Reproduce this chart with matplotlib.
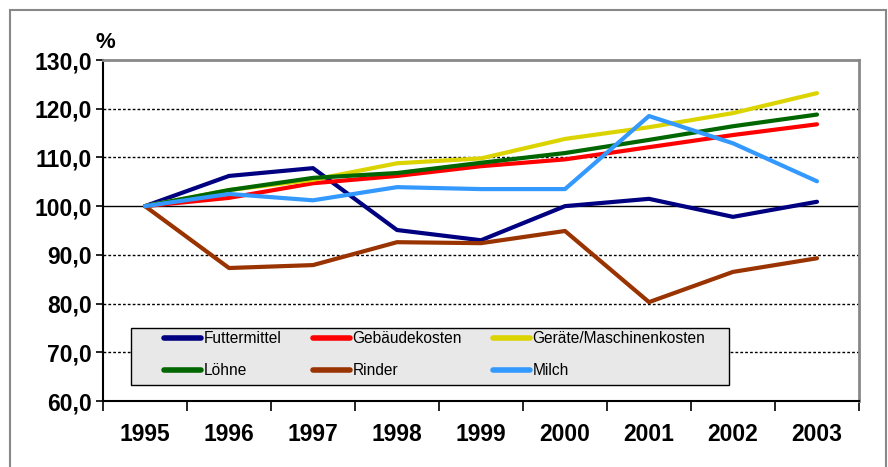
import matplotlib.pyplot as plt
from matplotlib.patches import Rectangle
from matplotlib.ticker import FixedLocator, FuncFormatter

plt.rc('font', family=['Liberation Sans', 'DejaVu Sans'])

# Daten (Index 1995 = 100)
years = ['1995', '1996', '1997', '1998', '1999', '2000', '2001', '2002', '2003']
futtermittel = [100.0, 106.2, 107.8, 95.1, 93.0, 100.0, 101.5, 97.8, 100.9]
gebaeude = [100.0, 101.7, 104.7, 106.2, 108.2, 109.6, 112.1, 114.6, 116.8]
geraete = [100.0, 103.3, 105.4, 108.8, 109.8, 113.8, 116.2, 119.1, 123.2]
loehne = [100.0, 103.3, 105.8, 106.8, 108.9, 110.9, 113.6, 116.4, 118.8]
rinder = [100.0, 87.3, 87.9, 92.6, 92.4, 94.9, 80.3, 86.5, 89.3]
milch = [100.0, 102.5, 101.2, 103.9, 103.5, 103.5, 118.5, 112.9, 105.1]

series = [
    ('Futtermittel', futtermittel, '#000080'),
    ('Gebäudekosten', gebaeude, '#ff0000'),
    ('Geräte/Maschinenkosten', geraete, '#dcd400'),
    ('Löhne', loehne, '#006600'),
    ('Rinder', rinder, '#993300'),
    ('Milch', milch, '#3399ff'),
]

fig = plt.figure(figsize=(8.88, 4.67), dpi=100)
ax = fig.add_axes([103/888, 1-401/467, (859-103)/888, (401-60)/467])

x = list(range(len(years)))
handles = {}
for name, vals, col in series:
    ln, = ax.plot(x, vals, color=col, lw=3, label=name, solid_capstyle='round', zorder=3)
    handles[name] = ln

ax.set_xlim(-0.5, len(years) - 0.5)
ax.set_ylim(60, 130)

# Gitterlinien
for v in [70, 80, 90, 110, 120]:
    ax.axhline(v, color='black', lw=1, ls=(0, (2, 1.5)), zorder=1)
ax.axhline(100, color='black', lw=1, zorder=1)

ax.yaxis.set_major_locator(FixedLocator(range(60, 131, 10)))
ax.yaxis.set_major_formatter(FuncFormatter(lambda v, p: f'{v:.1f}'.replace('.', ',')))
ax.xaxis.set_major_locator(FixedLocator([i - 0.5 for i in range(len(years) + 1)]))
ax.xaxis.set_major_formatter(FuncFormatter(lambda v, p: ''))
ax.xaxis.set_minor_locator(FixedLocator(x))
ax.set_xticklabels(years, minor=True)
ax.tick_params(axis='x', which='major', length=7, width=1.2, direction='out')
ax.tick_params(axis='x', which='minor', length=0, pad=16, labelsize=16.5)
ax.tick_params(axis='y', length=5, width=1.2, direction='out', labelsize=16.5, pad=3)
for lab in ax.get_xticklabels(minor=True) + ax.get_yticklabels():
    lab.set_fontweight('bold')

for s in ['left', 'bottom']:
    ax.spines[s].set_color('black')
    ax.spines[s].set_linewidth(1.5)
for s in ['top', 'right']:
    ax.spines[s].set_color('#888888')
    ax.spines[s].set_linewidth(2)

fig.text(105/888, 1-42/467, '%', fontsize=16, fontweight='bold', ha='center', va='center')

# Legendenkasten (eigenes Rechteck, da Innenabstand asymmetrisch)
box = Rectangle((131/888, 1-385/467), (729-131)/888, (385-328)/467,
                transform=fig.transFigure, facecolor='#e8e8e8',
                edgecolor='black', lw=1, zorder=4)
fig.patches.append(box)

# Legende zeilenweise wie im Original
order = ['Futtermittel', 'Löhne', 'Gebäudekosten', 'Rinder', 'Geräte/Maschinenkosten', 'Milch']
leg = fig.legend([handles[n] for n in order], order, ncol=3, loc='upper left',
                 bbox_to_anchor=(164/888, 1-331/467), fontsize=11.2, frameon=False,
                 handlelength=2.4, handletextpad=0.15, columnspacing=2.0,
                 labelspacing=1.1, borderpad=0, borderaxespad=0)
leg.set_zorder(5)
for ln in leg.get_lines():
    ln.set_linewidth(4)

# Rahmen um das Diagramm
fig.patches.append(Rectangle((10/888, -0.1), (886-10)/888, 1.1 - 10/467,
                             transform=fig.transFigure, fill=False,
                             edgecolor='#888888', lw=1.5))

fig.savefig('out.png', dpi=100)
